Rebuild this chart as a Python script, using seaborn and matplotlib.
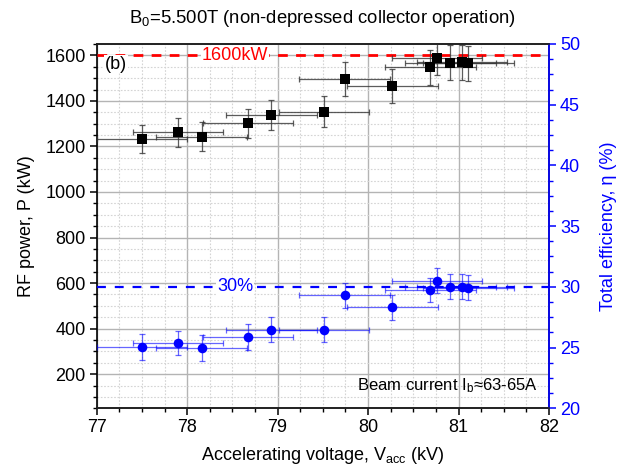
import numpy as np
import pandas as pd
import matplotlib
matplotlib.use("Agg")
import matplotlib.pyplot as plt
from matplotlib.ticker import MultipleLocator
import seaborn as sns

# ---- data ----
voltage_kv = [77.50, 77.90, 78.16, 78.67, 78.93, 79.51, 79.74, 80.27, 80.69, 80.76, 80.91, 81.04, 81.11]
voltage_err = [0.5, 0.5, 0.5, 0.5, 0.5, 0.5, 0.5, 0.5, 0.5, 0.5, 0.5, 0.5, 0.5]
power_kw = [1234, 1262, 1243, 1301, 1340, 1353, 1497, 1466, 1547, 1590, 1568, 1569, 1565]
power_err = [61, 64, 64, 65, 66, 68, 74, 73, 77, 77, 78, 78, 78]
efficiency_pct = [25.03, 25.39, 24.97, 25.87, 26.46, 26.46, 29.30, 28.31, 29.72, 30.51, 30.0, 30.0, 29.94]
efficiency_err = [1.05, 0.98, 1.05, 1.04, 1.03, 1.03, 1.01, 1.04, 1.0, 1.01, 1.02, 1.02, 1.02]
power_ref_kw = 1600
eff_ref_pct = 30

df = pd.DataFrame({"V": voltage_kv, "dV": voltage_err, "P": power_kw, "dP": power_err,
                   "eta": efficiency_pct, "deta": efficiency_err})

sns.set_theme(style="white")
plt.rcParams["font.family"] = ["Liberation Sans", "DejaVu Sans"]
plt.rcParams["mathtext.fontset"] = "custom"
plt.rcParams["mathtext.rm"] = "Liberation Sans"
plt.rcParams["mathtext.it"] = "Liberation Sans:italic"
plt.rcParams["text.color"] = "black"
plt.rcParams["axes.labelcolor"] = "black"
plt.rcParams["xtick.color"] = "black"
plt.rcParams["ytick.color"] = "black"

FS = 13
BLUE = "#0000ff"

fig = plt.figure(figsize=(6.29, 4.72), dpi=100)
ax = fig.add_axes([0.1537, 0.135, 0.8728 - 0.1537, 0.9068 - 0.135])
ax2 = ax.twinx()

# grid
ax.set_axisbelow(True)
ax.xaxis.set_major_locator(MultipleLocator(1))
ax.xaxis.set_minor_locator(MultipleLocator(0.25))
ax.yaxis.set_major_locator(MultipleLocator(200))
ax.yaxis.set_minor_locator(MultipleLocator(50))
ax.grid(which="major", color="#b4b4b4", lw=1.0, ls="-")
ax.grid(which="minor", color="#d4d4d4", lw=0.8, ls=(0, (1.5, 1.5)))

# reference lines
ax.axhline(power_ref_kw, color="red", lw=2.0, ls=(0, (3.5, 3)), zorder=3)
ax2.axhline(eff_ref_pct, color=BLUE, lw=1.6, ls=(0, (4, 4)), zorder=3)

# power (left)
ax.errorbar(df["V"], df["P"], xerr=df["dV"], yerr=df["dP"], fmt="none",
            ecolor="#333333", elinewidth=0.9, capsize=2.3, capthick=0.9, alpha=0.8, zorder=4)
sns.scatterplot(data=df, x="V", y="P", ax=ax, marker="s", s=42, color="black",
                edgecolor="black", linewidth=0, zorder=5, legend=False)

# efficiency (right)
ax2.errorbar(df["V"], df["eta"], xerr=df["dV"], yerr=df["deta"], fmt="none",
             ecolor=BLUE, elinewidth=0.9, capsize=2.3, capthick=0.9, alpha=0.6, zorder=4)
sns.scatterplot(data=df, x="V", y="eta", ax=ax2, marker="o", s=48, color=BLUE,
                edgecolor=BLUE, linewidth=0, zorder=5, legend=False)

ax.set_xlim(77, 82)
ax.set_ylim(50, 1650)
ax2.set_ylim(20, 50)
ax2.yaxis.set_major_locator(MultipleLocator(5))
ax2.yaxis.set_minor_locator(MultipleLocator(1.25))

# ticks / spines
for a in (ax, ax2):
    for s in a.spines.values():
        s.set_linewidth(1.2)
ax.spines["left"].set_color("black")
ax.spines["top"].set_color("black")
ax.spines["bottom"].set_color("black")
ax2.spines["right"].set_color(BLUE)
ax2.spines["left"].set_visible(False)
ax.tick_params(axis="both", which="major", direction="out", length=5, width=1.1,
               labelsize=FS, colors="black", bottom=True, left=True, top=False, right=False, pad=3)
ax.tick_params(axis="both", which="minor", direction="out", length=3, width=1.0,
               bottom=True, left=True, top=False, right=False)
ax2.tick_params(axis="y", which="major", direction="out", length=5, width=1.1,
                labelsize=FS, colors=BLUE, pad=3)
ax2.tick_params(axis="y", which="minor", direction="out", length=3, width=1.0, colors=BLUE)

ax.set_xlabel(r"Accelerating voltage, V$_{\mathrm{acc}}$ (kV)", fontsize=FS, labelpad=6)
ax.set_ylabel("RF power, P (kW)", fontsize=FS, labelpad=7)
ax2.set_ylabel("Total efficiency, \u03b7 (%)", fontsize=FS, color=BLUE, labelpad=14)

fig.text(0.512, 0.96, r"B$_0$=5.500T (non-depressed collector operation)",
         ha="center", va="center", fontsize=FS + 0.3)

ax.text(78.53, power_ref_kw, "1600kW", color="red", fontsize=FS, ha="center", va="center",
        bbox=dict(facecolor="white", edgecolor="none", pad=0.5), zorder=6)
ax2.text(78.53, eff_ref_pct, "30%", color=BLUE, fontsize=FS, ha="center", va="center",
         bbox=dict(facecolor="white", edgecolor="none", pad=0.5), zorder=6)
ax.text(0.018, 0.945, "(b)", transform=ax.transAxes, fontsize=FS, ha="left", va="center", zorder=6,
        bbox=dict(facecolor="white", edgecolor="none", pad=0.5))
ax.text(0.975, 0.063, r"Beam current I$_\mathrm{b}$" + "\u2248" + "63-65A",
        transform=ax.transAxes, fontsize=FS - 1, ha="right", va="center", zorder=6)

fig.savefig("out.png", dpi=100)
